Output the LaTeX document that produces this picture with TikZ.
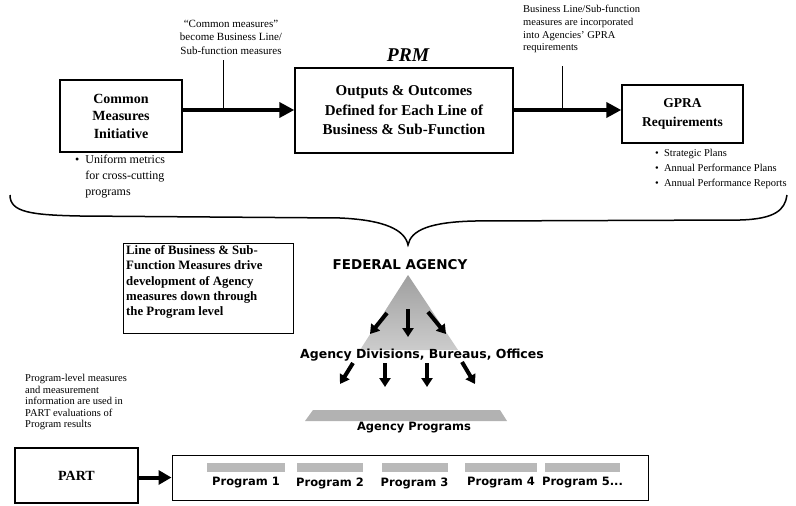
\documentclass[tikz,border=0pt]{standalone}
\usepackage{fontspec}
\setmainfont{Liberation Serif}
\newfontfamily\dvsans{DejaVu Sans}
\usetikzlibrary{arrows.meta}
\begin{document}
\begin{tikzpicture}[x=1pt,y=-1pt,
  bigbox/.style={draw, line width=1.4pt, align=center, inner sep=0pt, font=\bfseries\fontsize{14}{17.5}\selectfont},
  note/.style={inner sep=0pt, font=\fontsize{11}{13.5}\selectfont},
  mainarrow/.style={line width=4pt, -{Triangle[length=15pt,width=15pt]}},
  smallarrow/.style={line width=4pt, -{Triangle[length=9pt,width=11pt]}},
  callout/.style={line width=1pt},
  sanslabel/.style={inner sep=0pt, font=\dvsans\bfseries\fontsize{12.5}{15}\selectfont},
  grayfill/.style={fill=gray!55, draw=none}
]
\useasboundingbox (0,0) rectangle (796,506);

% --- top row boxes
\node[bigbox, minimum width=122pt, minimum height=72pt] (cmi) at (121,116)
  {Common\\Measures\\Initiative};
\node[bigbox, minimum width=218pt, minimum height=85pt, font=\bfseries\fontsize{15}{19.5}\selectfont] (prm) at (404,110.5)
  {Outputs \& Outcomes\\Defined for Each Line of\\Business \& Sub-Function};
\node[bigbox, minimum width=121pt, minimum height=58pt, font=\bfseries\fontsize{13.5}{19}\selectfont] (gpra) at (682.5,114)
  {GPRA\\Requirements};
\node[inner sep=0pt, font=\bfseries\itshape\fontsize{19.5}{22}\selectfont] (prmlabel) at (408,55) {PRM};

% --- annotations
\node[note, align=center] (noteL) at (231,37) {``Common measures''\\become Business Line/\\Sub-function measures};
\node[note, align=left, anchor=north west, font=\fontsize{10.5}{12.8}\selectfont] (noteR) at (523,5)
  {Business Line/Sub-function\\measures are incorporated\\into Agencies' GPRA\\requirements};
\node[inner sep=0pt, align=left, anchor=north west, font=\fontsize{12}{16}\selectfont] (bulL) at (75,155)
  {\textbullet\ \ Uniform metrics\\\phantom{\textbullet\ \ }for cross-cutting\\\phantom{\textbullet\ \ }programs};
\node[inner sep=0pt, align=left, anchor=north west, font=\fontsize{10.5}{15}\selectfont] (bulR) at (655,149)
  {\textbullet\ \ Strategic Plans\\\textbullet\ \ Annual Performance Plans\\\textbullet\ \ Annual Performance Reports};

% --- arrows of the top row
\coordinate (j1) at (223,110);
\coordinate (j2) at (562,110);
\coordinate (c1) at (223,60);
\coordinate (c2) at (562,66);
\draw[mainarrow] (cmi.east |- j1) -- (prm.west |- j1);
\draw[mainarrow] (prm.east |- j2) -- (gpra.west |- j2);
\draw[callout] (c1) -- (j1);
\draw[callout] (c2) -- (j2);

% --- brace
\draw[line width=1.5pt] (10,195) .. controls (10,212) and (30,215) .. (80,216)
  -- (340,218) .. controls (385,220) and (405,230) .. (408,245)
  .. controls (411,230) and (430,222) .. (475,221)
  -- (740,220) .. controls (775,219) and (785,210) .. (787,195);

% --- left text box
\node[draw, line width=1pt, minimum width=170pt, minimum height=90pt, inner sep=0pt] (lob) at (208,288) {};
\node[inner sep=0pt, align=left, anchor=north west, font=\bfseries\fontsize{12.8}{15.4}\selectfont] (lobtext) at (126,245)
  {Line of Business \& Sub-\\Function Measures drive\\development of Agency\\measures down through\\the Program level};

% --- federal agency pyramid
\shade[top color=gray!75, bottom color=gray!40] (408,275) -- (360,350) -- (458,350) -- cycle;
\node[sanslabel, font=\dvsans\bfseries\fontsize{13.5}{15}\selectfont] (fed) at (400,265) {FEDERAL AGENCY};

\coordinate (a1s) at (387,313); \coordinate (a1e) at (370,334);
\coordinate (a2s) at (408,309); \coordinate (a2e) at (408,337);
\coordinate (a3s) at (428,312); \coordinate (a3e) at (446,334);
\draw[smallarrow] (a1s) -- (a1e);
\draw[smallarrow] (a2s) -- (a2e);
\draw[smallarrow] (a3s) -- (a3e);

\node[sanslabel] (div) at (422,355) {Agency Divisions, Bureaus, Offices};

\coordinate (b1s) at (353,363); \coordinate (b1e) at (340,384);
\coordinate (b2s) at (385,363); \coordinate (b2e) at (385,387);
\coordinate (b3s) at (427,363); \coordinate (b3e) at (427,387);
\coordinate (b4s) at (462,362); \coordinate (b4e) at (475,384);
\draw[smallarrow] (b1s) -- (b1e);
\draw[smallarrow] (b2s) -- (b2e);
\draw[smallarrow] (b3s) -- (b3e);
\draw[smallarrow] (b4s) -- (b4e);

\fill[gray!60] (305,421) -- (313,410) -- (500,410) -- (507,421) -- cycle;
\node[sanslabel, font=\dvsans\bfseries\fontsize{11.5}{14}\selectfont] (progs) at (414,428) {Agency Programs};

% --- bottom row
\node[inner sep=0pt, align=left, anchor=north west, font=\fontsize{10.5}{11.6}\selectfont] (partnote) at (25,374)
  {Program-level measures\\and measurement\\information are used in\\PART evaluations of\\Program results};
\node[bigbox, minimum width=123pt, minimum height=55pt] (part) at (76.5,475.5) {PART};
\node[draw, line width=1pt, minimum width=476pt, minimum height=45pt, inner sep=0pt] (plist) at (410,477.5) {};
\draw[mainarrow, -{Triangle[length=13pt,width=14pt]}] (part.east |- plist.west) -- (plist.west);

\foreach \i/\x/\w/\t in {1/246/78/{Program 1}, 2/330/66/{Program 2}, 3/414.5/66/{Program 3}, 4/501/72/{Program 4}, 5/582.5/75/{Program 5...}} {
  \node[grayfill, minimum width=\w pt, minimum height=9pt, inner sep=0pt] (pb\i) at (\x,467.5) {};
  \node[sanslabel, font=\dvsans\bfseries\fontsize{11.5}{14}\selectfont] (p\i) at (\x,483) {\t};
}
\end{tikzpicture}
\end{document}
